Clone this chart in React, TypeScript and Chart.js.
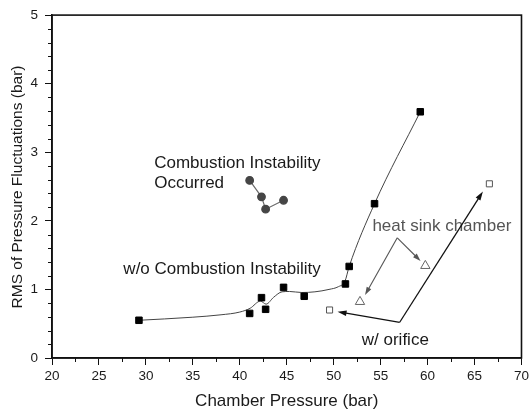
import React, { useEffect, useRef } from "react";
import { Chart, registerables } from "chart.js";

Chart.register(...registerables);

// ---- data ----
const squaresX = [29.26, 41.05, 42.31, 42.75, 44.66, 46.86, 51.25, 51.65, 54.35, 59.22];
const squaresY = [0.55, 0.65, 0.88, 0.71, 1.03, 0.9, 1.08, 1.335, 2.25, 3.59];

const circlesX = [41.05, 42.31, 42.75, 44.66];
const circlesY = [2.59, 2.35, 2.17, 2.3];

const trianglesX = [52.8, 59.76];
const trianglesY = [0.82, 1.345];

const openSquaresX = [49.56, 66.58];
const openSquaresY = [0.7, 2.54];

// smooth fitted curve through the "w/o" data
const fitX = [29.26, 32, 35, 38, 40, 41.1, 42.2, 42.8, 43.6, 44.5, 45.3, 46.6, 48, 49.5, 50.5, 51.2, 51.65, 54.35, 59.22];
const fitY = [0.55, 0.57, 0.595, 0.63, 0.67, 0.725, 0.83, 0.785, 0.885, 0.965, 0.97, 0.955, 0.965, 1.0, 1.04, 1.12, 1.335, 2.25, 3.59];

const xMajorTicks = [20, 25, 30, 35, 40, 45, 50, 55, 60, 65, 70];
const yMajorTicks = [0, 1, 2, 3, 4, 5];
const xMinorStep = 2.5;
const yMinorStep = 0.2;

// annotation texts (data coords of left edge / baseline)
const labelTexts = ["Combustion Instability", "Occurred", "w/o Combustion Instability", "heat sink chamber", "w/ orifice"];
const labelX = [30.88, 30.88, 27.6, 54.12, 52.99];
const labelY = [2.765, 2.475, 1.222, 1.849, 0.184];
const labelColors = ["#1a1a1a", "#1a1a1a", "#1a1a1a", "#555555", "#1a1a1a"];

// arrows: vertex and two tips (data coords)
const heatSinkVertex = [56.77, 1.752];
const heatSinkTips = [[59.25, 1.414], [53.34, 0.918]];
const orificeVertex = [57.03, 0.521];
const orificeTips = [[50.41, 0.676], [65.89, 2.428]];

const FONT = '"Liberation Sans", Arial, sans-serif';

const pts = (xs: number[], ys: number[]) => xs.map((x, i) => ({ x, y: ys[i] }));

function arrow(ctx: CanvasRenderingContext2D, x0: number, y0: number, x1: number, y1: number, color: string, lw: number, hl: number, hw: number) {
  const ang = Math.atan2(y1 - y0, x1 - x0);
  ctx.strokeStyle = color;
  ctx.fillStyle = color;
  ctx.lineWidth = lw;
  ctx.beginPath();
  ctx.moveTo(x0, y0);
  ctx.lineTo(x1 - Math.cos(ang) * hl * 0.8, y1 - Math.sin(ang) * hl * 0.8);
  ctx.stroke();
  ctx.beginPath();
  ctx.moveTo(x1, y1);
  ctx.lineTo(x1 - Math.cos(ang) * hl - Math.sin(ang) * hw, y1 - Math.sin(ang) * hl + Math.cos(ang) * hw);
  ctx.lineTo(x1 - Math.cos(ang) * hl + Math.sin(ang) * hw, y1 - Math.sin(ang) * hl - Math.cos(ang) * hw);
  ctx.closePath();
  ctx.fill();
}

const overlay = {
  id: "overlay",
  afterDraw(chart: any) {
    const { ctx, chartArea: a } = chart;
    const xs = chart.scales.x;
    const ys = chart.scales.y;
    ctx.save();
    // frame
    ctx.strokeStyle = "#111";
    ctx.lineWidth = 1.6;
    ctx.strokeRect(a.left, a.top, a.right - a.left, a.bottom - a.top);
    // minor ticks
    ctx.lineWidth = 1;
    ctx.beginPath();
    for (let v = xMajorTicks[0] + xMinorStep; v < xMajorTicks[xMajorTicks.length - 1]; v += 2 * xMinorStep) {
      const px = Math.round(xs.getPixelForValue(v)) + 0.5;
      ctx.moveTo(px, a.bottom);
      ctx.lineTo(px, a.bottom + 4);
    }
    for (let k = 1; k < 25; k++) {
      if (k % 5 === 0) continue;
      const py = Math.round(ys.getPixelForValue(k * yMinorStep)) + 0.5;
      ctx.moveTo(a.left, py);
      ctx.lineTo(a.left - 4, py);
    }
    ctx.stroke();

    // annotation texts
    ctx.font = "17px " + FONT;
    ctx.textBaseline = "alphabetic";
    ctx.textAlign = "left";
    labelTexts.forEach((t, i) => {
      ctx.fillStyle = labelColors[i];
      ctx.fillText(t, xs.getPixelForValue(labelX[i]), ys.getPixelForValue(labelY[i]));
    });

    // arrows
    const hv = [xs.getPixelForValue(heatSinkVertex[0]), ys.getPixelForValue(heatSinkVertex[1])];
    heatSinkTips.forEach(([tx, ty]) => {
      arrow(ctx, hv[0], hv[1], xs.getPixelForValue(tx), ys.getPixelForValue(ty), "#555", 1.1, 8, 2.6);
    });
    const ov = [xs.getPixelForValue(orificeVertex[0]), ys.getPixelForValue(orificeVertex[1])];
    orificeTips.forEach(([tx, ty]) => {
      arrow(ctx, ov[0], ov[1], xs.getPixelForValue(tx), ys.getPixelForValue(ty), "#111", 1.3, 9, 2.8);
    });

    // axis titles
    ctx.fillStyle = "#1a1a1a";
    ctx.font = "17px " + FONT;
    ctx.textAlign = "center";
    ctx.fillText("Chamber Pressure (bar)", (a.left + a.right) / 2, 406);
    ctx.save();
    ctx.translate(21.5, 187);
    ctx.rotate(-Math.PI / 2);
    ctx.font = "15.5px " + FONT;
    ctx.fillText("RMS of Pressure Fluctuations (bar)", 0, 0);
    ctx.restore();
    ctx.restore();
  },
};

export default function App() {
  const ref = useRef<HTMLCanvasElement | null>(null);
  useEffect(() => {
    if (!ref.current) return;
    const chart = new Chart(ref.current, {
      type: "scatter",
      data: {
        datasets: [
          {
            label: "w/o",
            data: pts(squaresX, squaresY),
            pointStyle: "rect",
            pointRadius: 4.6,
            backgroundColor: "#000",
            borderColor: "#000",
            borderWidth: 1,
            showLine: false,
          },
          {
            label: "instability",
            data: pts(circlesX, circlesY),
            pointStyle: "circle",
            pointRadius: 3.8,
            backgroundColor: "#454545",
            pointBorderColor: "#454545",
            borderColor: "#6a6a6a",
            borderWidth: 1.2,
            showLine: true,
          },
          {
            label: "heat sink",
            data: pts(trianglesX, trianglesY),
            pointStyle: "triangle",
            pointRadius: 5.4,
            backgroundColor: "#fff",
            borderColor: "#666",
            borderWidth: 1,
            showLine: false,
          },
          {
            label: "orifice",
            data: pts(openSquaresX, openSquaresY),
            pointStyle: "rect",
            pointRadius: 4.3,
            backgroundColor: "#fff",
            borderColor: "#555",
            borderWidth: 1,
            showLine: false,
          },
          {
            label: "fit",
            data: pts(fitX, fitY),
            pointRadius: 0,
            borderColor: "#444",
            borderWidth: 1,
            showLine: true,
            cubicInterpolationMode: "monotone",
          },
        ],
      },
      options: {
        responsive: false,
        animation: false,
        layout: { padding: { left: 0, top: 12, right: 9, bottom: 0 } },
        plugins: { legend: { display: false }, tooltip: { enabled: false } },
        scales: {
          x: {
            type: "linear",
            min: 20,
            max: 70,
            afterBuildTicks: (s: any) => {
              s.ticks = xMajorTicks.map((v) => ({ value: v }));
            },
            afterFit: (s: any) => {
              s.height = 56;
            },
            ticks: { color: "#1a1a1a", font: { family: FONT, size: 13.5 }, padding: 3 },
            grid: { drawOnChartArea: false, drawTicks: true, tickLength: 7, color: "#111", lineWidth: 1 },
            border: { display: true, color: "#111", width: 1.6 },
          },
          y: {
            type: "linear",
            min: 0,
            max: 5,
            afterBuildTicks: (s: any) => {
              s.ticks = yMajorTicks.map((v) => ({ value: v }));
            },
            afterFit: (s: any) => {
              s.width = 52;
            },
            ticks: { color: "#1a1a1a", font: { family: FONT, size: 13.5 }, padding: 7 },
            grid: { drawOnChartArea: false, drawTicks: true, tickLength: 7, color: "#111", lineWidth: 1 },
            border: { display: true, color: "#111", width: 1.6 },
          },
        },
      },
      plugins: [overlay],
    } as any);
    return () => chart.destroy();
  }, []);
  return (
    <div style={{ position: "absolute", left: 0, top: 0, width: 532, height: 414, background: "#fff" }}>
      <canvas ref={ref} width={532} height={414} style={{ display: "block" }} />
    </div>
  );
}
